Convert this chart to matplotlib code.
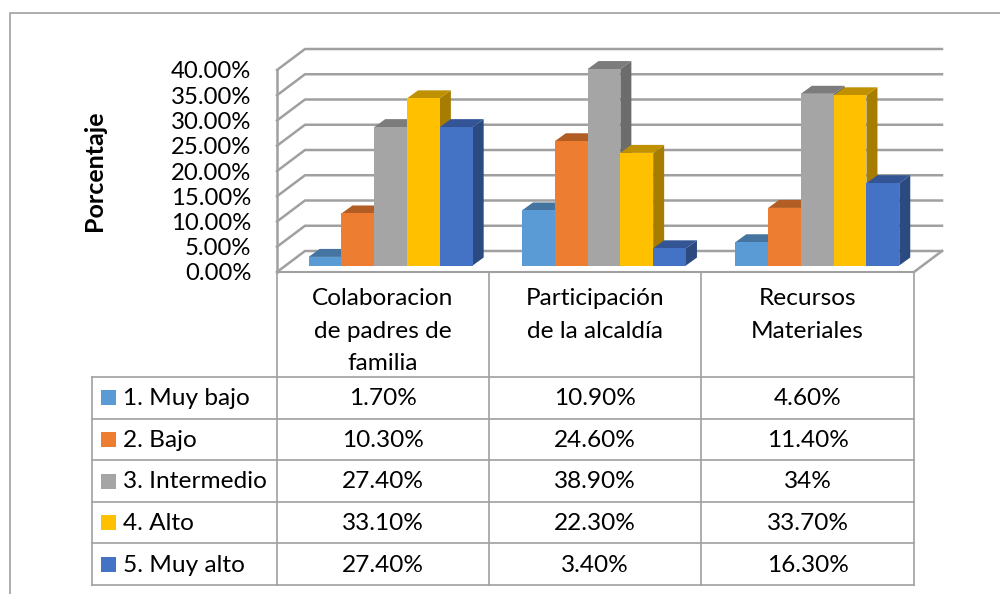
"""Bar chart with fake 3D depth and a data table below it."""
import matplotlib
matplotlib.use("Agg")
import matplotlib.pyplot as plt
from matplotlib.patches import Polygon, Rectangle

CATEGORIES = ["Colaboracion\nde padres de\nfamilia", "Participación\nde la alcaldía", "Recursos\nMateriales"]
SERIES = ["1. Muy bajo", "2. Bajo", "3. Intermedio", "4. Alto", "5. Muy alto"]
MUY_BAJO = [1.70, 10.90, 4.60]
BAJO = [10.30, 24.60, 11.40]
INTERMEDIO = [27.40, 38.90, 34]
ALTO = [33.10, 22.30, 33.70]
MUY_ALTO = [27.40, 3.40, 16.30]
VALUES = [MUY_BAJO, BAJO, INTERMEDIO, ALTO, MUY_ALTO]
YTICKS = [0, 5, 10, 15, 20, 25, 30, 35, 40]

COLORS = ["#5B9BD5", "#ED7D31", "#A5A5A5", "#FFC000", "#4472C4"]
TOPS = ["#44749F", "#B15D24", "#7C7C7C", "#BF9000", "#335595"]
SIDES = ["#3B6591", "#9A5120", "#6C6C6C", "#A67D00", "#2B4A7F"]
GRID = "#A0A0A0"
LINE = "#A6A6A6"
TEXT = "#000000"

plt.rcParams["font.family"] = ["Lato", "DejaVu Sans"]
FS = 17.6
FS_TICK = 17.2

W, H = 1000, 594
COLS = [277, 489, 701, 914]
ROWS = [272, 377, 418.7, 460.2, 501.8, 543.3, 584.7]
PX_CAT = (COLS[3] - COLS[0]) / 3
PX_PCT = 202 / 40

fig = plt.figure(figsize=(W / 100, H / 100), dpi=100)

# overlay in pixels for the frame and table
tb = fig.add_axes([0, 0, 1, 1], zorder=1)
tb.set_xlim(0, W)
tb.set_ylim(H, 0)
tb.axis("off")
tb.plot([10, 10, W], [H, 12.5, 12.5], color=LINE, lw=1.3)

for y in ROWS:
    x0 = 92 if y > ROWS[0] else COLS[0]
    tb.plot([x0, COLS[3]], [y, y], color=GRID, lw=1.5 if y == ROWS[0] else 1.2)
for x in COLS:
    tb.plot([x, x], [ROWS[0], ROWS[-1]], color=GRID, lw=1.2)
tb.plot([92, 92], [ROWS[1], ROWS[-1]], color=GRID, lw=1.2)

for i, name in enumerate(CATEGORIES):
    cx = (COLS[i] + COLS[i + 1]) / 2
    top = 298.5
    for j, part in enumerate(name.split("\n")):
        tb.text(cx, top + j * 32.5, part, ha="center", va="center", fontsize=FS, color=TEXT)

for r, name in enumerate(SERIES):
    cy = (ROWS[r + 1] + ROWS[r + 2]) / 2
    tb.add_patch(Rectangle((101, cy - 7.5), 15, 15, color=COLORS[r], lw=0))
    tb.text(123, cy + 1, name, ha="left", va="center", fontsize=FS, color=TEXT)
    for i, v in enumerate(VALUES[r]):
        label = f"{v}%" if isinstance(v, int) else f"{v:.2f}%"
        cx = (COLS[i] + COLS[i + 1]) / 2
        tb.text(cx, cy + 1, label, ha="center", va="center", fontsize=FS, color=TEXT)

# chart axes: x in categories, y in percent, front plane of the box
ax = fig.add_axes([COLS[0] / W, (H - ROWS[0]) / H, (COLS[3] - COLS[0]) / W, 202 / H], zorder=2)
ax.patch.set_alpha(0)
ax.set_xlim(0, 3)
ax.set_ylim(0, 40)
for s in ax.spines.values():
    s.set_visible(False)
ax.set_xticks([])
ax.set_yticks(YTICKS)
ax.set_yticklabels([f"{t:.2f}%" for t in YTICKS], fontsize=FS_TICK, color=TEXT)
ax.tick_params(axis="y", length=0, pad=18.5)
ax.set_ylabel("Porcentaje", fontsize=18, fontweight="bold", color=TEXT, labelpad=0)
ax.yaxis.set_label_coords(-171 / (COLS[3] - COLS[0]), 0.5)

# box depth
BOX_DX = 28 / PX_CAT
BOX_DY = 21 / PX_PCT
for t in YTICKS:
    ax.plot([0, BOX_DX, 3 + BOX_DX], [t, t + BOX_DY, t + BOX_DY], color=GRID, lw=1.8, clip_on=False, zorder=1)
ax.plot([0, 0], [0, 40], color=GRID, lw=1.8, clip_on=False, zorder=1)
ax.plot([3, 3 + BOX_DX], [0, BOX_DY], color=GRID, lw=1.8, clip_on=False, zorder=1)

# bars
BAR_W = 32.8 / PX_CAT
BAR_DX = 11 / PX_CAT
BAR_DY = 8 / PX_PCT
BASE = 6.5 / PX_PCT
SHIFT = 7.5 / PX_CAT
PITCH = 213.3 / PX_CAT
for i in range(len(CATEGORIES)):
    left = 0.5 + SHIFT + i * PITCH - 2.5 * BAR_W
    for r in range(len(SERIES)):
        v = VALUES[r][i]
        x0 = left + r * BAR_W
        x1 = x0 + BAR_W
        z = 3 + i * 10 + r
        y1 = BASE + v
        ax.add_patch(Polygon([(x1, BASE), (x1 + BAR_DX, BASE + BAR_DY), (x1 + BAR_DX, y1 + BAR_DY), (x1, y1)],
                             facecolor=SIDES[r], lw=0, clip_on=False, zorder=z))
        ax.add_patch(Polygon([(x0, y1), (x0 + BAR_DX, y1 + BAR_DY), (x1 + BAR_DX, y1 + BAR_DY), (x1, y1)],
                             facecolor=TOPS[r], lw=0, clip_on=False, zorder=z))
        ax.bar(x0, v, BAR_W, bottom=BASE, align="edge", color=COLORS[r], lw=0, clip_on=False, zorder=z + 0.5)

fig.savefig("out.png", dpi=100)
